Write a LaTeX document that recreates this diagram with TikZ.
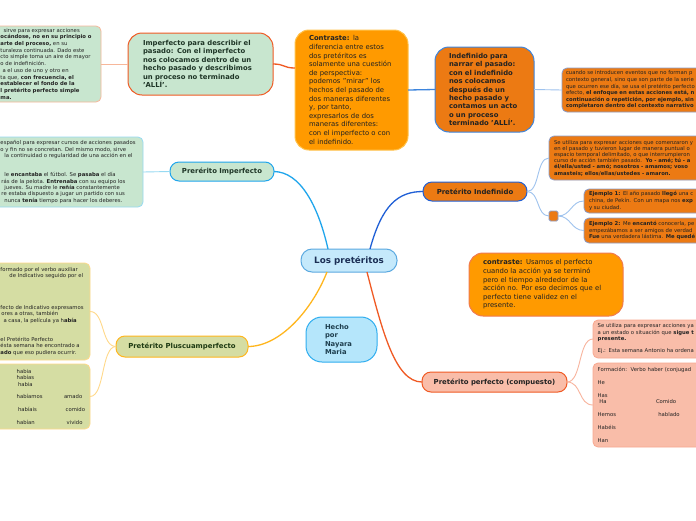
\documentclass[tikz,border=0pt]{standalone}
\usepackage{fontspec}
\setmainfont{DejaVu Sans}
\definecolor{txtc}{HTML}{222222}
\definecolor{gfill}{HTML}{C8E6CF}
\definecolor{gtext}{HTML}{1E3526}
\definecolor{salmonline}{HTML}{F7B79A}
\definecolor{redline}{HTML}{F05A24}
\definecolor{orfill}{HTML}{FF9A00}
\definecolor{orborder}{HTML}{FFC24A}
\definecolor{dkor}{HTML}{EC7A13}
\definecolor{blueline}{HTML}{3D85DD}
\definecolor{lblue}{HTML}{9FC3EE}
\definecolor{grayblue}{HTML}{8C9CC8}
\definecolor{lcyan}{HTML}{97DAF2}
\definecolor{cyanline}{HTML}{1FA5EC}
\definecolor{darkblue}{HTML}{1F5FD6}
\definecolor{lpfill}{HTML}{C5E9FB}
\definecolor{lpborder}{HTML}{5BA9E0}
\definecolor{lptext}{HTML}{1B2F55}
\definecolor{c2border}{HTML}{F07A50}
\definecolor{hfill}{HTML}{B5E6FB}
\definecolor{hborder}{HTML}{2EADEF}
\definecolor{htext}{HTML}{1E3F4F}
\definecolor{ppfill}{HTML}{F9BDA9}
\definecolor{ppsub}{HTML}{F8A890}
\definecolor{ppline}{HTML}{F8B49E}
\definecolor{plfill}{HTML}{D5DDA3}
\definecolor{yline}{HTML}{FFB61E}
\definecolor{lyline}{HTML}{FFD98A}
\definecolor{pltext}{HTML}{1E3A12}
\newcommand{\sq}{\symbol{39}}
\begin{document}
\begin{tikzpicture}[x=1pt,y=-1pt,
  every node/.style={inner sep=0pt, outer sep=0pt, text=txtc},
  bigbox/.style={draw, rounded corners=14pt, line width=1pt, align=left, font=\fontsize{6.85}{8.6}\selectfont},
  smallbox/.style={draw, rounded corners=5pt, line width=0.8pt},
  smalltxt/.style={align=left, font=\fontsize{5.3}{6.4}\selectfont},
  branch/.style={draw, rounded corners=9pt, line width=1pt, minimum height=19pt, font=\bfseries\fontsize{6.9}{8}\selectfont},
  mainline/.style={line width=1.3pt},
  subline/.style={line width=0.9pt},
]
\fill[white] (0,0) rectangle (696,520);
\useasboundingbox (0,0) rectangle (696,520);

% ---------- top chain ----------
\node[smallbox, fill=gfill, draw=salmonline, minimum width=121pt, minimum height=76pt, anchor=north west] (lb1) at (-20,26) {};
\node[smalltxt, anchor=west, font=\fontsize{5.3}{6.7}\selectfont] (lb1t) at (0.5,63.7) {%
\hspace{3pt}sirve para expresar acciones\\
\textbf{ocándose, no en su principio o}\\
\textbf{arte del proceso,} en su\\
turaleza continuada. Dado este\\
cto simple toma un aire de mayor\\
o de indefinición.\\
\hspace{2pt}a el uso de uno y otro en\\
ta que, \textbf{con frecuencia, el}\\
\textbf{establecer el fondo de la}\\
\textbf{l pretérito perfecto simple}\\
\textbf{ma.}};

\node[bigbox, fill=gfill, draw=redline, minimum width=145pt, minimum height=62pt, text width=115pt, inner xsep=15pt, font=\bfseries\fontsize{6.85}{8.5}\selectfont, text=gtext] (n1) at (200.5,64) {%
Imperfecto para describir el\\
pasado: Con el imperfecto\\
nos colocamos dentro de un\\
hecho pasado y describimos\\
un proceso no terminado\\
\sq ALLÍ\sq.};

\node[bigbox, fill=orfill, draw=orborder, minimum width=113pt, minimum height=120pt, text width=85pt, inner xsep=14pt] (n2) at (351.5,90) {%
\textbf{Contraste:} la\\
diferencia entre estos\\
dos pretéritos es\\
solamente una cuestión\\
de perspectiva:\\
podemos "mirar" los\\
hechos del pasado de\\
dos maneras diferentes\\
y, por tanto,\\
expresarlos de dos\\
maneras diferentes:\\
con el imperfecto o con\\
el indefinido.};

\node[bigbox, fill=dkor, draw=blueline, minimum width=99pt, minimum height=85pt, text width=71pt, inner xsep=14pt, font=\bfseries\fontsize{6.85}{8.4}\selectfont] (n3) at (484.5,89.5) {%
Indefinido para\\
narrar el pasado:\\
con el indefinido\\
nos colocamos\\
después de un\\
hecho pasado y\\
contamos un acto\\
o un proceso\\
terminado \sq ALLÍ\sq.};

\node[smallbox, smalltxt, fill=dkor, draw=grayblue, anchor=west, minimum height=44pt, text width=200pt, inner xsep=4pt, font=\fontsize{5.3}{6.6}\selectfont] (rb1) at (562,90) {%
cuando se introducen eventos que no forman p\\
contexto general, sino que son parte de la serie\\
que ocurren ese día, se usa el pretérito perfecto\\
efecto, \textbf{el enfoque en estas acciones está, n}\\
\textbf{continuación o repetición, por ejemplo, sin}\\
\textbf{completaron dentro del contexto narrativo}};

% ---------- imperfecto branch ----------
\node[smallbox, fill=gfill, draw=lcyan, minimum width=163pt, minimum height=70pt, anchor=north west] (lb2) at (-20,137) {};
\node[smalltxt, anchor=west] (lb2t) at (0.5,172) {%
español para expresar cursos de acciones pasados\\
o y fin no se concretan. Del mismo modo, sirve\\
\hspace{4pt}la continuidad o regularidad de una acción en el\\[12.8pt]
\hspace{4pt}le \textbf{encantaba} el fútbol. Se \textbf{pasaba} el día\\
\hspace{1pt}rás de la pelota. \textbf{Entrenaba} con su equipo los\\
\hspace{4pt}jueves. Su madre le \textbf{reñía} constantemente\\
\hspace{1pt}re estaba dispuesto a jugar un partido con sus\\
\hspace{4pt}nunca \textbf{tenía} tiempo para hacer los deberes.};

\node[branch, fill=gfill, draw=cyanline, minimum width=104pt, text=gtext] (pi) at (222,171.5) {Prerérito Imperfecto};

% ---------- center ----------
\node[draw, rounded corners=11pt, line width=1pt, fill=lpfill, draw=lpborder, minimum width=96pt, minimum height=23pt, font=\bfseries\fontsize{8.8}{10}\selectfont, text=lptext] (lp) at (349,260.5) {Los pretéritos};

\node[draw, rounded corners=16pt, line width=1pt, fill=hfill, draw=hborder, minimum width=71pt, minimum height=45pt, text width=33pt, inner xsep=19pt, align=left, font=\bfseries\fontsize{6.8}{8.3}\selectfont, text=htext] (hecho) at (341.5,339.5) {Hecho\\por\\Nayara\\Maria};

% ---------- indefinido branch ----------
\node[branch, fill=dkor, draw=darkblue, minimum width=104pt] (pind) at (475,191.5) {Pretérito Indefinido};

\node[smallbox, smalltxt, fill=dkor, draw=grayblue, anchor=west, minimum height=44pt, text width=200pt, inner xsep=5pt, font=\fontsize{5.3}{6.2}\selectfont] (ib1) at (549,158) {%
Se utiliza para expresar acciones que comenzaron y\\
en el pasado y tuvieron lugar de manera puntual o\\
espacio temporal delimitado, o que interrumpieron\\
curso de acción también pasado.\ \ \textbf{Yo - amé; tú - a}\\
\textbf{él/ella/usted - amó; nosotros - amamos; voso}\\
\textbf{amasteis; ellos/ellas/ustedes - amaron.}};

\node[draw=grayblue, fill=dkor, rounded corners=1.5pt, line width=0.8pt, minimum width=9pt, minimum height=10pt] (sq) at (553.5,216) {};

\node[smallbox, smalltxt, fill=dkor, draw=grayblue, anchor=west, minimum height=24pt, text width=200pt, inner xsep=5pt, font=\fontsize{5.3}{6.6}\selectfont] (ej1) at (584,201) {%
\textbf{Ejemplo 1:} El año pasado \textbf{llegó} una c\\
china, de Pekín. Con un mapa nos \textbf{exp}\\
y su ciudad.};

\node[smallbox, smalltxt, fill=dkor, draw=grayblue, anchor=west, minimum height=25pt, text width=200pt, inner xsep=5pt, font=\fontsize{5.3}{6.7}\selectfont] (ej2) at (584,230.5) {%
\textbf{Ejemplo 2:} Me \textbf{encantó} conocerla, pe\\
empezábamos a ser amigos de verdad\\
\textbf{Fue} una verdadera lástima. \textbf{Me quedé}};

% ---------- perfecto branch ----------
\node[bigbox, fill=orfill, draw=c2border, minimum width=154pt, minimum height=63pt, text width=126pt, inner xsep=14pt] (c2) at (546,284.5) {%
\textbf{contraste:} Usamos el perfecto\\
cuando la acción ya se terminó\\
pero el tiempo alrededor de la\\
acción no. Por eso decimos que el\\
perfecto tiene validez en el\\
presente.};

\node[branch, fill=ppfill, draw=redline, minimum width=145pt, minimum height=20pt] (pp) at (494.5,382) {Pretérito perfecto (compuesto)};

\node[smallbox, smalltxt, fill=ppfill, draw=ppsub, anchor=west, minimum height=38pt, text width=200pt, inner xsep=4.7pt] (pp1) at (593,339) {%
Se utiliza para expresar acciones ya\\
a un estado o situación que \textbf{sigue t}\\
\textbf{presente.}\\[5.8pt]
Ej.: Esta semana Antonio ha ordena};

\node[smallbox, smalltxt, fill=ppfill, draw=ppsub, anchor=west, minimum height=84pt, text width=200pt, inner xsep=4.7pt, font=\fontsize{5.3}{6.5}\selectfont] (pp2) at (593,405) {%
Formación:\ \ Verbo haber (conjugad\\[6.5pt]
He\\[6.2pt]
Has\\
\makebox[58.3pt][l]{\hspace{1.6pt}Ha}Comido\\[6.2pt]
\makebox[60.6pt][l]{Hemos}hablado\\[6.5pt]
Habéis\\[6.2pt]
Han};

% ---------- pluscuamperfecto branch ----------
\node[branch, fill=plfill, draw=yline, minimum width=132pt, minimum height=21pt, text=pltext] (plusc) at (182,346.5) {Pretérito Pluscuamperfecto};

\node[smallbox, fill=plfill, draw=lyline, minimum width=110pt, minimum height=97pt, anchor=north west] (p1) at (-20,263) {};
\node[smalltxt, anchor=west] (p1t) at (0.5,311.3) {%
formado por el verbo auxiliar\\
\hspace{9pt}de Indicativo seguido por el\\[25.6pt]
fecto de Indicativo expresamos\\
\hspace{1pt}ores a otras, también\\
\hspace{3pt}a casa, la película ya h\textbf{abía}\\[12.8pt]
el Pretérito Perfecto\\
ésta semana he encontrado a\\
\textbf{ado} que eso pudiera ocurrir.};

\node[smallbox, fill=plfill, draw=lyline, minimum width=110pt, minimum height=65pt, anchor=north west] (p2) at (-20,364) {};
\node[smalltxt, anchor=west, font=\fontsize{5.3}{6.5}\selectfont] (p2t) at (16.7,396.7) {%
habia\\
habías\\
\hspace{1.3pt}habia\\[6.2pt]
\makebox[47.3pt][l]{habíamos}amado\\[6.2pt]
\makebox[49pt][l]{\hspace{1.3pt}habíais}comido\\[6.2pt]
\makebox[50pt][l]{habían}vivido};

% ---------- connectors ----------
\draw[subline, salmonline] (lb1.east) -- (n1.west);
\draw[mainline, redline] (n1.east) .. controls (285,64) and (283,68) .. ([yshift=22pt]n2.west);
\draw[mainline, blueline] (n2.east) -- (n3.west);
\draw[subline, lblue] (n3.east) -- (rb1.west);
\draw[subline, lcyan] (lb2.east) -- (pi.west);
\draw[mainline, cyanline] (pi.east) .. controls (300,172) and (318,205) .. ([xshift=-21pt]lp.north);
\draw[mainline, darkblue] ([xshift=21pt]lp.north) .. controls (382,205) and (398,191.5) .. (pind.west);
\draw[mainline, redline] ([xshift=18pt]lp.south) .. controls (382,330) and (395,382) .. (pp.west);
\draw[mainline, yline] ([xshift=-22pt]lp.south) .. controls (312,310) and (280,346.5) .. (plusc.east);
\draw[subline, lblue] (pind.east) .. controls (540,191.5) and (536,158) .. (ib1.west);
\draw[subline, lblue] (pind.east) .. controls (540,191.5) and (536,216) .. (sq.west);
\draw[subline, lblue] (sq.east) .. controls (571,216) and (571,201) .. (ej1.west);
\draw[subline, lblue] (sq.east) .. controls (571,216) and (571,230.5) .. (ej2.west);
\draw[subline, ppline] (pp.east) .. controls (582,382) and (578,339) .. (pp1.west);
\draw[subline, ppline] (pp.east) .. controls (582,382) and (578,405) .. (pp2.west);
\draw[subline, lyline] (plusc.west) .. controls (101,346.5) and (105,311.5) .. (p1.east);
\draw[subline, lyline] (plusc.west) .. controls (101,346.5) and (105,396.5) .. (p2.east);
\end{tikzpicture}
\end{document}
